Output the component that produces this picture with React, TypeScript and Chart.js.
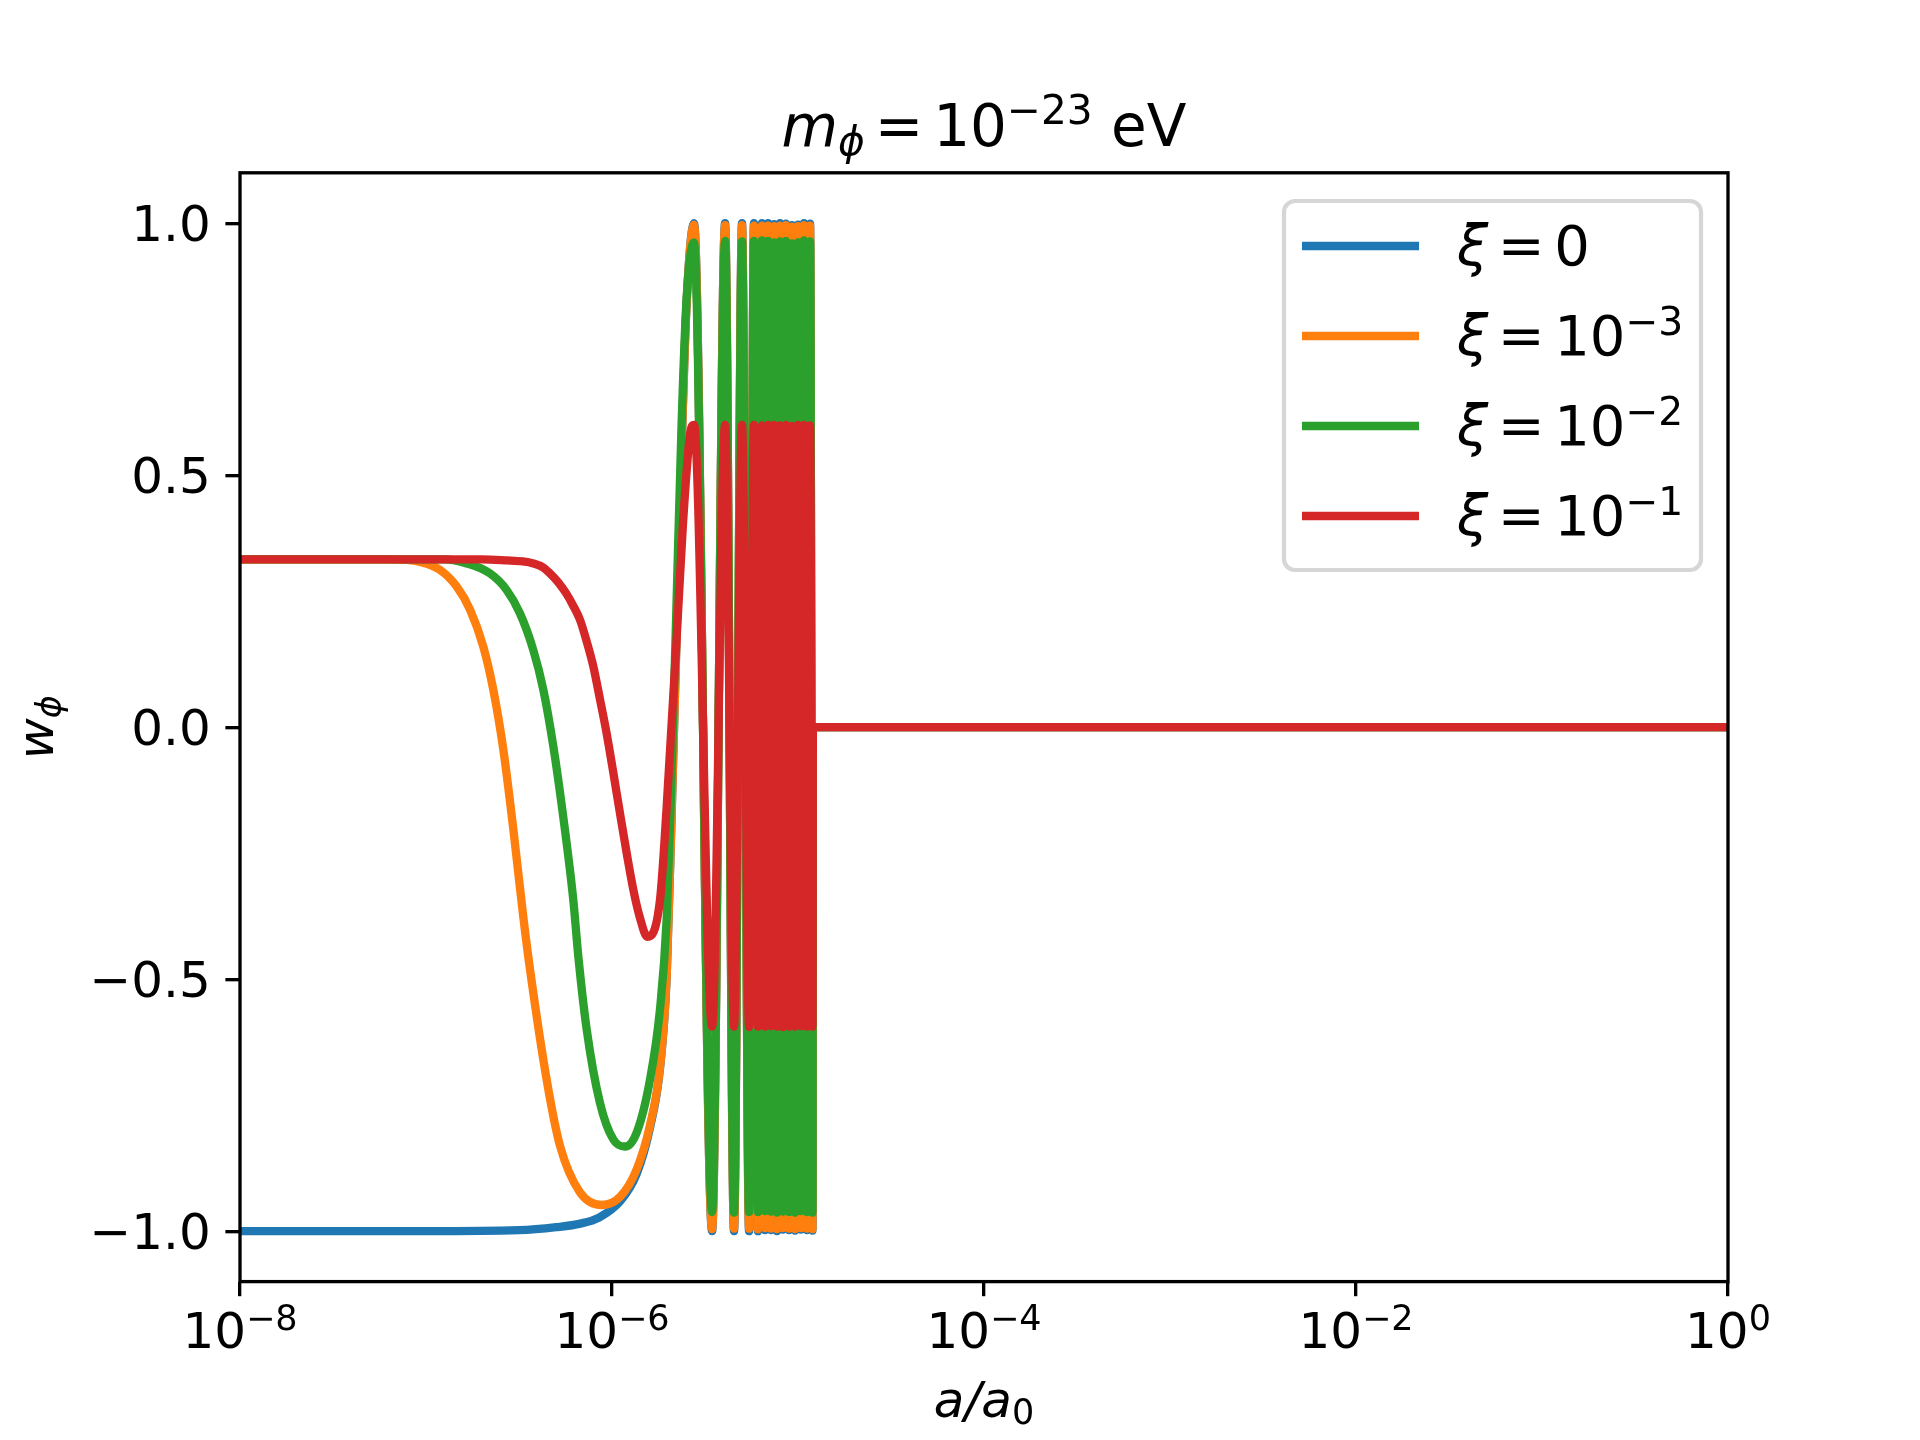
import { useEffect, useRef } from "react";
import { Chart, registerables } from "chart.js";
import type { ChartConfiguration, Plugin } from "chart.js";

Chart.register(...registerables);

// log10(a/a0) positions and w_phi values, one pair of arrays per curve
const xi0LogA = [-8, -7, -6.5, -6.3, -6.17, -6.07, -5.957, -5.867, -5.796, -5.742, -5.706, -5.68, -5.655, -5.626, -5.599];
const xi0W = [-1, -1, -0.998, -0.992, -0.985, -0.973, -0.941, -0.886, -0.795, -0.677, -0.494, -0.18, 0.15, 0.55, 0.84];

const xi3LogA = [-8, -7.2, -7.032, -6.925, -6.835, -6.763, -6.692, -6.638, -6.584, -6.53, -6.477, -6.441, -6.351, -6.28, -6.172, -6.055, -5.957, -5.867, -5.796, -5.742, -5.706, -5.68, -5.655, -5.626, -5.599];
const xi3W = [0.333, 0.333, 0.328, 0.312, 0.279, 0.233, 0.16, 0.074, -0.045, -0.204, -0.376, -0.48, -0.7, -0.83, -0.923, -0.948, -0.932, -0.877, -0.79, -0.675, -0.494, -0.18, 0.15, 0.55, 0.84];

const xi2LogA = [-8, -6.9, -6.781, -6.656, -6.566, -6.495, -6.423, -6.369, -6.315, -6.262, -6.208, -6.181, -6.136, -6.065, -5.993, -5.93, -5.867, -5.796, -5.742, -5.706, -5.68, -5.655, -5.626, -5.599];
const xi2W = [0.333, 0.333, 0.325, 0.305, 0.272, 0.226, 0.153, 0.074, -0.039, -0.178, -0.343, -0.455, -0.6, -0.745, -0.818, -0.832, -0.804, -0.7, -0.56, -0.38, -0.1, 0.22, 0.6, 0.85];

const xi1LogA = [-8, -6.7, -6.566, -6.48, -6.423, -6.37, -6.333, -6.29, -6.247, -6.21, -6.172, -6.136, -6.1, -6.065, -6.029, -5.993, -5.957, -5.921, -5.885, -5.85, -5.81, -5.742, -5.706, -5.653, -5.618, -5.581];
const xi1W = [0.333, 0.333, 0.331, 0.329, 0.325, 0.317, 0.305, 0.288, 0.266, 0.242, 0.213, 0.17, 0.12, 0.056, -0.012, -0.09, -0.171, -0.25, -0.323, -0.378, -0.416, -0.343, -0.158, 0.173, 0.406, 0.58];

// extrema of the oscillating stretch (shared x positions)
const oscLogA = [-5.559, -5.462, -5.392, -5.344, -5.301, -5.263, -5.237, -5.215, -5.194, -5.177, -5.161, -5.145, -5.129, -5.113, -5.097, -5.081, -5.065, -5.048, -5.032, -5.016, -5.0, -4.984, -4.968, -4.952, -4.935, -4.922];
const xi0Osc = [1, -1, 1, -1, 1, -1, 1, -1, 1, -0.998, 1, -0.998, 0.998, -1, 1, -0.997, 0.999, -0.998, 0.996, -0.999, 0.997, -0.997, 1, -0.998, 0.999, -0.999];
const xi3Osc = [0.997, -0.996, 0.996, -0.995, 0.996, -0.995, 0.995, -0.996, 0.995, -0.994, 0.995, -0.995, 0.994, -0.996, 0.995, -0.994, 0.996, -0.995, 0.993, -0.996, 0.994, -0.994, 0.996, -0.995, 0.995, -0.996];
const xi2Osc = [0.962, -0.962, 0.965, -0.963, 0.964, -0.962, 0.965, -0.962, 0.966, -0.96, 0.965, -0.961, 0.962, -0.963, 0.964, -0.961, 0.965, -0.962, 0.96, -0.963, 0.962, -0.96, 0.966, -0.962, 0.964, -0.963];
const xi1Osc = [0.6, -0.594, 0.6, -0.594, 0.6, -0.595, 0.6, -0.594, 0.599, -0.594, 0.6, -0.593, 0.6, -0.594, 0.599, -0.595, 0.6, -0.594, 0.598, -0.594, 0.6, -0.593, 0.6, -0.594, 0.599, -0.594];

// averaged tail
const xi0TailLogA = [-4.92, 0];
const xi0TailW = [0, 0];
const xi3TailLogA = [-4.921, -4.92, 0];
const xi3TailW = [-0.68, 0, 0];
const xi2TailLogA = [-4.92, 0];
const xi2TailW = [0, 0];
const xi1TailLogA = [-4.92, 0];
const xi1TailW = [0, 0];

const xTickValues = [1e-8, 1e-6, 1e-4, 1e-2, 1];
const xTickExps = ["\u22128", "\u22126", "\u22124", "\u22122", "0"];
const yTickValues = [-1, -0.5, 0, 0.5, 1];
const yTickLabels = ["\u22121.0", "\u22120.5", "0.0", "0.5", "1.0"];

const seriesColors = ["#1f77b4", "#ff7f0e", "#2ca02c", "#d62728"];
const legendExps = [null, "\u22123", "\u22122", "\u22121"];

type Run = { t?: string; it?: boolean; s?: number; dy?: number; gap?: number };

const FAMILY = "'DejaVu Sans'";
const LW = 8.33;
const TICK_LEN = 14.6;
const TICK_W = 3.33;

const titleRuns: Run[] = [
    { t: "m", it: true },
    { t: "\u03d5", it: true, s: 0.7, dy: 0.15 },
    { gap: 0.17 },
    { t: "=" },
    { gap: 0.17 },
    { t: "10" },
    { t: "\u221223", s: 0.7, dy: -0.38 },
    { t: " eV" },
];
const xLabelRuns: Run[] = [{ t: "a", it: true }, { t: "/", it: true }, { t: "a", it: true }, { t: "0", s: 0.7, dy: 0.14 }];
const yLabelRuns: Run[] = [{ t: "w", it: true }, { t: "\u03d5", it: true, s: 0.7, dy: 0.15 }];

function fontFor(size: number, it?: boolean) {
    return `${it ? "italic " : ""}${size}px ${FAMILY}`;
}

function runsWidth(ctx: CanvasRenderingContext2D, runs: Run[], size: number) {
    let w = 0;
    for (const r of runs) {
        if (r.gap) { w += r.gap * size; continue; }
        ctx.font = fontFor(size * (r.s ?? 1), r.it);
        w += ctx.measureText(r.t ?? "").width;
    }
    return w;
}

function drawRuns(ctx: CanvasRenderingContext2D, runs: Run[], x: number, y: number, size: number, align: "left" | "center" | "right") {
    const w = runsWidth(ctx, runs, size);
    let cx = align === "center" ? x - w / 2 : align === "right" ? x - w : x;
    ctx.textAlign = "left";
    ctx.textBaseline = "alphabetic";
    ctx.fillStyle = "#000";
    for (const r of runs) {
        if (r.gap) { cx += r.gap * size; continue; }
        ctx.font = fontFor(size * (r.s ?? 1), r.it);
        ctx.fillText(r.t ?? "", cx, y + (r.dy ?? 0) * size);
        cx += ctx.measureText(r.t ?? "").width;
    }
}

const toPoints = (logA: number[], w: number[]) => logA.map((l, i) => ({ x: Math.pow(10, l), y: w[i] }));

const decor: Plugin<"line"> = {
    id: "decor",
    beforeDraw(chart) {
        const { ctx } = chart;
        ctx.save();
        ctx.fillStyle = "#fff";
        ctx.fillRect(0, 0, chart.width, chart.height);
        ctx.restore();
    },
    afterDatasetsDraw(chart) {
        const { ctx, chartArea: a } = chart;
        ctx.save();
        ctx.strokeStyle = "#000";
        ctx.lineWidth = TICK_W;
        ctx.strokeRect(a.left, a.top, a.right - a.left, a.bottom - a.top);
        ctx.restore();
    },
    afterDraw(chart) {
        const { ctx, chartArea: a } = chart;
        const xs = chart.scales.x;
        const ys = chart.scales.y;
        ctx.save();

        xTickValues.forEach((v, i) => {
            drawRuns(ctx, [{ t: "10" }, { t: xTickExps[i], s: 0.7, dy: -0.36 }], xs.getPixelForValue(v), a.bottom + 66.4, 50, "center");
        });
        yTickValues.forEach((v, i) => {
            drawRuns(ctx, [{ t: yTickLabels[i] }], a.left - 29.2, ys.getPixelForValue(v) + 18, 50, "right");
        });

        drawRuns(ctx, xLabelRuns, (a.left + a.right) / 2, a.bottom + 135, 50, "center");
        ctx.save();
        ctx.translate(a.left - 187, (a.top + a.bottom) / 2);
        ctx.rotate(-Math.PI / 2);
        drawRuns(ctx, yLabelRuns, 0, 0, 50, "center");
        ctx.restore();

        drawRuns(ctx, titleRuns, (a.left + a.right) / 2, a.top - 26.5, 58, "center");

        // legend
        const bw = 417, bh = 369;
        const bx = a.right - 27 - bw, by = a.top + 28.2;
        ctx.beginPath();
        ctx.roundRect(bx, by, bw, bh, 11);
        ctx.fillStyle = "rgba(255,255,255,0.8)";
        ctx.fill();
        ctx.lineWidth = 4.2;
        ctx.strokeStyle = "#d6d6d6";
        ctx.stroke();
        seriesColors.forEach((c, i) => {
            const ry = by + 45 + i * 90;
            ctx.beginPath();
            ctx.moveTo(bx + 18, ry);
            ctx.lineTo(bx + 135, ry);
            ctx.lineWidth = LW;
            ctx.strokeStyle = c;
            ctx.lineCap = "butt";
            ctx.stroke();
            const exp = legendExps[i];
            const runs: Run[] = [{ t: "\u03be", it: true }, { gap: 0.17 }, { t: "=" }, { gap: 0.17 }];
            if (exp) runs.push({ t: "10" }, { t: exp, s: 0.7, dy: -0.36 });
            else runs.push({ t: "0" });
            drawRuns(ctx, runs, bx + 173, ry + 19, 56, "left");
        });

        ctx.restore();
    },
};

export default function App() {
    const canvasRef = useRef<HTMLCanvasElement | null>(null);

    useEffect(() => {
        if (!canvasRef.current) return;

        const mk = (label: string, color: string, order: number, pts: { x: number; y: number }[]) => ({
            label,
            data: pts,
            borderColor: color,
            backgroundColor: color,
            borderWidth: LW,
            borderJoinStyle: "round" as const,
            borderCapStyle: "butt" as const,
            cubicInterpolationMode: "monotone" as const,
            pointRadius: 0,
            fill: false,
            clip: 0,
            order,
        });

        const config: ChartConfiguration<"line"> = {
            type: "line",
            data: {
                datasets: [
                    mk("xi = 0", seriesColors[0], 4, [...toPoints(xi0LogA, xi0W), ...toPoints(oscLogA, xi0Osc), ...toPoints(xi0TailLogA, xi0TailW)]),
                    mk("xi = 1e-3", seriesColors[1], 3, [...toPoints(xi3LogA, xi3W), ...toPoints(oscLogA, xi3Osc), ...toPoints(xi3TailLogA, xi3TailW)]),
                    mk("xi = 1e-2", seriesColors[2], 2, [...toPoints(xi2LogA, xi2W), ...toPoints(oscLogA, xi2Osc), ...toPoints(xi2TailLogA, xi2TailW)]),
                    mk("xi = 1e-1", seriesColors[3], 1, [...toPoints(xi1LogA, xi1W), ...toPoints(oscLogA, xi1Osc), ...toPoints(xi1TailLogA, xi1TailW)]),
                ],
            },
            options: {
                animation: false,
                responsive: false,
                devicePixelRatio: 1,
                events: [],
                layout: { padding: { left: 240, right: 192, top: 172.8, bottom: 158.4 } },
                plugins: { legend: { display: false }, title: { display: false }, tooltip: { enabled: false } },
                scales: {
                    x: {
                        type: "logarithmic",
                        min: 1e-8,
                        max: 1,
                        ticks: { display: false },
                        border: { display: false },
                        grid: { drawOnChartArea: false, drawTicks: true, tickLength: TICK_LEN, tickWidth: TICK_W, tickColor: "#000", color: "#000", lineWidth: TICK_W },
                        afterBuildTicks: (s) => { s.ticks = xTickValues.map((value) => ({ value })); },
                        afterFit: (s) => { s.height = 0; },
                    },
                    y: {
                        type: "linear",
                        min: -1.1,
                        max: 1.1,
                        ticks: { display: false },
                        border: { display: false },
                        grid: { drawOnChartArea: false, drawTicks: true, tickLength: TICK_LEN, tickWidth: TICK_W, tickColor: "#000", color: "#000", lineWidth: TICK_W },
                        afterBuildTicks: (s) => { s.ticks = yTickValues.map((value) => ({ value })); },
                        afterFit: (s) => { s.width = 0; },
                    },
                },
            },
            plugins: [decor],
        };

        const chart = new Chart(canvasRef.current, config);
        return () => {
            chart.destroy();
        };
    }, []);

    return (
        <div style={{ position: "absolute", left: 0, top: 0, width: 1920, height: 1440, background: "#fff" }}>
            <canvas ref={canvasRef} width={1920} height={1440} />
        </div>
    );
}
